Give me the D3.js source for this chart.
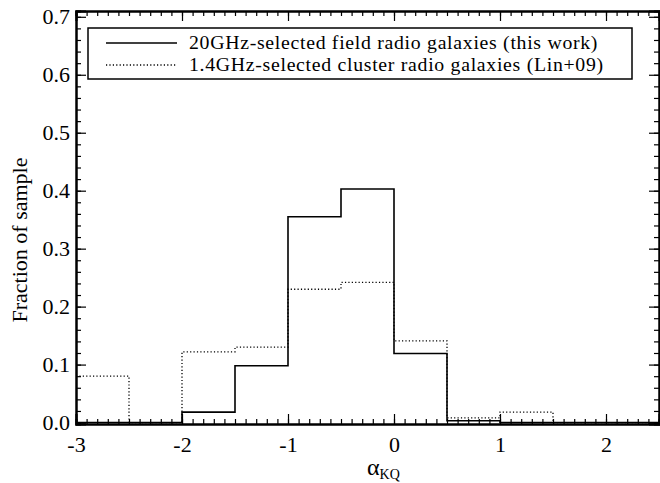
<!DOCTYPE html>
<html>
<head>
<meta charset="utf-8">
<script src="https://cdn.jsdelivr.net/npm/d3@7"></script>
<style>
    body { margin: 0; background: #fff; }
    svg { display: block; font-family: "Liberation Serif", "DejaVu Serif", serif; }
    .axis path { stroke: #000; stroke-width: 2px; }
    .axis line { stroke: #000; stroke-width: 1.2px; }
</style>
</head>
<body>
<svg id="chart" width="660" height="483"></svg>
<script>
// Bin edges of the alpha_KQ histogram
const binEdges = [-3, -2.5, -2, -1.5, -1, -0.5, 0, 0.5, 1, 1.5, 2, 2.5];

// Fraction of sample per bin
const fieldFraction = [0, 0, 0.018, 0.098, 0.355, 0.403, 0.119, 0.003, 0, 0, 0];
const clusterFraction = [0.08, 0, 0.122, 0.13, 0.23, 0.242, 0.141, 0.008, 0.018, 0, 0];

// Legend texts
const seriesLabels = [
    "20GHz-selected field radio galaxies (this work)",
    "1.4GHz-selected cluster radio galaxies (Lin+09)"
];

// Tick labels
const xTicks = [-3, -2, -1, 0, 1, 2];
const yTicks = [0, 0.1, 0.2, 0.3, 0.4, 0.5, 0.6, 0.7];


/**
 * Step histogram like the IDL original
 *
 * @param element svg element
 * @constructor
 */
function HistogramChart(element) {
    this.element = element;
    this.svg = null;
    this.x = null;
    this.y = null;

    this.init = function () {
        let me = this;
        me.svg = d3.select(me.element);

        // Plot frame in pixels
        me.frame = { left: 76, right: 659, top: 11, bottom: 424 };

        me.x = d3.scaleLinear().domain([-3, 2.5]).range([me.frame.left, me.frame.right]);
        me.y = d3.scaleLinear().domain([-0.0025, 0.71]).range([me.frame.bottom, me.frame.top]);

        me.drawAxes();
        me.drawSeries(fieldFraction, null, 1.6);
        me.drawSeries(clusterFraction, "1.2,2.2", 1.3);
        me.drawLegend();
    };


    /**
     * Adds one axis group and styles its texts
     */
    this.addAxis = function (axis, tx, ty) {
        let g = this.svg.append("g")
            .attr("class", "axis")
            .attr("transform", "translate(" + tx + "," + ty + ")")
            .call(axis);
        g.attr("font-family", "Liberation Serif, serif").attr("font-size", 22);
        g.selectAll("text")
            .attr("fill", "#000")
            .text(function () { return this.textContent.replace("\u2212", "-"); });
        return g;
    };


    /**
     * Frame with inward ticks on all four sides
     */
    this.drawAxes = function () {
        let me = this;
        let f = me.frame;
        let xMinor = d3.range(-30, 26).map(d => d / 10);
        let yMinor = d3.range(0, 36).map(d => d / 50);

        // minor ticks
        me.addAxis(d3.axisBottom(me.x).tickValues(xMinor).tickSize(-5).tickFormat(""), 0, f.bottom);
        me.addAxis(d3.axisTop(me.x).tickValues(xMinor).tickSize(-5).tickFormat(""), 0, f.top);
        me.addAxis(d3.axisLeft(me.y).tickValues(yMinor).tickSize(-5).tickFormat(""), f.left, 0);
        me.addAxis(d3.axisRight(me.y).tickValues(yMinor).tickSize(-5).tickFormat(""), f.right, 0);

        // major ticks with labels
        me.addAxis(d3.axisBottom(me.x).tickValues(xTicks).tickSize(-10).tickPadding(12).tickFormat(d3.format("d")), 0, f.bottom);
        me.addAxis(d3.axisTop(me.x).tickValues(xTicks).tickSize(-10).tickFormat(""), 0, f.top);
        me.addAxis(d3.axisLeft(me.y).tickValues(yTicks).tickSize(-10).tickPadding(6).tickFormat(d3.format(".1f")), f.left, 0);
        me.addAxis(d3.axisRight(me.y).tickValues(yTicks).tickSize(-10).tickFormat(""), f.right, 0);

        // Axis titles
        let xt = me.svg.append("text")
            .attr("x", me.x(-0.1))
            .attr("y", 475)
            .attr("text-anchor", "middle")
            .attr("font-size", 24);
        xt.append("tspan").text("\u03b1");
        xt.append("tspan").attr("font-size", 14).attr("dy", 4).text("KQ");

        me.svg.append("text")
            .attr("transform", "translate(27,240) rotate(-90)")
            .attr("text-anchor", "middle")
            .attr("font-size", 22)
            .text("Fraction of sample");
    };


    /**
     * Draws one histogram outline
     */
    this.drawSeries = function (values, dash, width) {
        let me = this;
        let pts = values.map((v, i) => [binEdges[i], v]);
        pts.push([binEdges[values.length], values[values.length - 1]]);

        let line = d3.line()
            .x(d => me.x(d[0]))
            .y(d => me.y(d[1]))
            .curve(d3.curveStepAfter);

        me.svg.append("path")
            .datum(pts)
            .attr("d", line)
            .attr("fill", "none")
            .attr("stroke", "#000")
            .attr("stroke-width", width)
            .attr("stroke-dasharray", dash);
    };


    /**
     * Boxed legend top left
     */
    this.drawLegend = function () {
        let me = this;
        let g = me.svg.append("g");

        g.append("rect")
            .attr("x", 88).attr("y", 28)
            .attr("width", 544).attr("height", 51)
            .attr("fill", "#fff")
            .attr("stroke", "#000")
            .attr("stroke-width", 1.5);

        seriesLabels.forEach(function (label, i) {
            let yy = 43 + i * 22;
            g.append("line")
                .attr("x1", 106).attr("x2", 177)
                .attr("y1", yy).attr("y2", yy)
                .attr("stroke", "#000")
                .attr("stroke-width", i === 0 ? 1.6 : 1.3)
                .attr("stroke-dasharray", i === 0 ? null : "1.2,2.2");
            g.append("text")
                .attr("x", 189).attr("y", yy + 6)
                .attr("font-size", 19.8)
                .attr("letter-spacing", 0.7)
                .text(label);
        });
    };

    this.init();
}

new HistogramChart(document.getElementById("chart"));
</script>
</body>
</html>
